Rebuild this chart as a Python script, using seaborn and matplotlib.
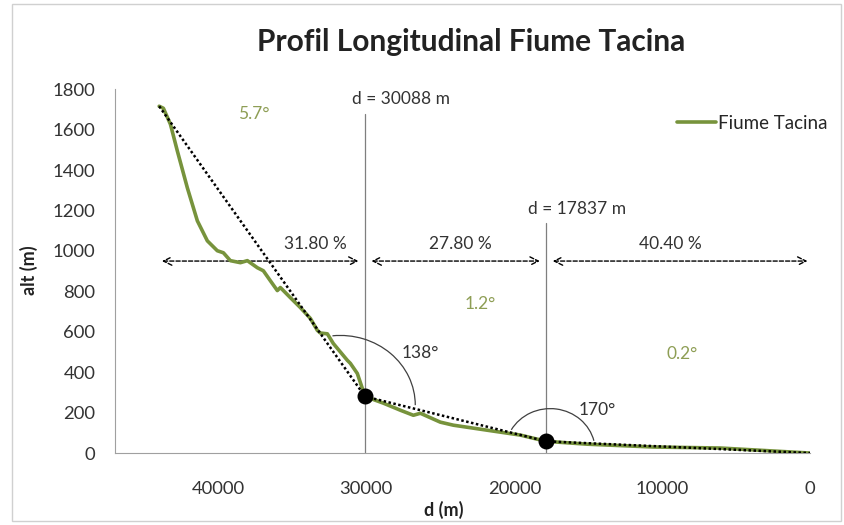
import numpy as np
import pandas as pd
import seaborn as sns
import matplotlib.pyplot as plt
from matplotlib.patches import Arc

# === Data ===
dist = [44000, 43716, 43240, 42770, 42095, 41420, 40745, 40070, 39660, 39190, 38510,
        38040, 37365, 36960, 36490, 36015, 35810, 35135, 34460, 33780, 33310, 33110,
        32635, 32230, 31285, 31080, 30610, 30088, 28850, 27700, 26820, 26350, 25000,
        24120, 21820, 19590, 17837, 15070, 10600, 6080, 0]
alt = [1716, 1706, 1627, 1494, 1312, 1149, 1050, 1001, 991, 952, 942,
       952, 917, 902, 853, 804, 819, 769, 720, 666, 607, 594,
       590, 542, 459, 444, 394, 280, 247, 212, 187, 197, 153,
       138, 113, 89, 58, 44, 30, 25, 0]

# break points of the simplified profile (dotted line)
break_d = [44000, 30088, 17837, 0]
break_alt = [1716, 280, 58, 0]

# segment shares, slopes and angles
seg_pct = ["31.80 %", "27.80 %", "40.40 %"]
seg_slope = ["5.7°", "1.2°", "0.2°"]
knee_angle = ["138°", "170°"]

green = "#77933C"
light_green = "#8E9E55"
txt = "#333333"


def arc_theta(t, w, h):
    # parametric ellipse angle -> angle expected by matplotlib Arc
    t = np.radians(t)
    return np.degrees(np.arctan2(h * np.sin(t), w * np.cos(t)))


df = pd.DataFrame({"d": dist, "alt": alt, "serie": "Fiume Tacina"})

sns.set_style("white")
plt.rcParams["font.family"] = ["Lato", "DejaVu Sans"]

fig = plt.figure(figsize=(8.44, 5.25), dpi=100)
ax = fig.add_axes([0.136, 0.137, 0.824, 0.693])

# vertical markers of the break points
for xv, top in zip(break_d[1:3], [1680, 1140]):
    ax.plot([xv, xv], [0, top], color="#7f7f7f", lw=0.9, zorder=1)

sns.lineplot(data=df, x="d", y="alt", hue="serie", palette=[green], lw=2.6,
             ax=ax, zorder=3, sort=False)

# simplified profile
ax.plot(break_d, break_alt, color="black", lw=1.8, ls=(0, (1, 1)), zorder=4)
ax.scatter(break_d[1:3], break_alt[1:3], s=110, color="black", zorder=5)

# horizontal share arrows
for i in range(3):
    x0 = break_d[i] - (0 if i == 0 else 250)
    x1 = break_d[i + 1] + (250 if i < 2 else 0)
    ax.annotate("", xy=(x1, 950), xytext=(x0, 950),
                arrowprops=dict(arrowstyle="<->", ls=(0, (3, 1.5)), lw=1.0,
                                color="black", mutation_scale=15), zorder=2)
for xs, s in zip([33450, 23650, 9460], seg_pct):
    ax.text(xs, 1035, s, ha="center", va="center", fontsize=12.5, color=txt)

# slope labels
for (xs, ys), s in zip([(37640, 1680), (22300, 740), (8650, 490)], seg_slope):
    ax.text(xs, ys, s, ha="center", va="center", fontsize=12.5, color=light_green)

# distance labels
ax.text(27650, 1750, f"d = {break_d[1]} m", ha="center", va="center", fontsize=12.5, color=txt)
ax.text(15740, 1207, f"d = {break_d[2]} m", ha="center", va="center", fontsize=12.5, color=txt)

# angle arcs
w1, h1 = 10135, 690
ax.add_patch(Arc((31760, 237), w1, h1, theta1=arc_theta(84, w1, h1),
                 theta2=arc_theta(180, w1, h1), color="#404040", lw=0.9, zorder=2))
w2, h2 = 6080, 420
ax.add_patch(Arc((17570, 10), w2, h2, theta1=arc_theta(30, w2, h2),
                 theta2=arc_theta(166, w2, h2), color="#404040", lw=0.9, zorder=2))
ax.text(26350, 493, knee_angle[0], ha="center", va="center", fontsize=12.5, color=txt)
ax.text(14400, 212, knee_angle[1], ha="center", va="center", fontsize=12.5, color=txt)

ax.set_xlim(47000, 0)
ax.set_ylim(0, 1800)
ax.set_xticks([40000, 30000, 20000, 10000, 0])
ax.set_yticks(range(0, 1801, 200))
ax.tick_params(axis="both", labelsize=13.3, labelcolor=txt, color="#a0a0a0",
               direction="out", width=0.8)
ax.tick_params(axis="y", length=5, pad=9)
ax.tick_params(axis="x", length=4, pad=16)
for side in ["top", "right"]:
    ax.spines[side].set_visible(False)
for side in ["left", "bottom"]:
    ax.spines[side].set_color("#a0a0a0")

ax.set_xlabel("d (m)", fontsize=13, fontweight="bold", color="#222222")
ax.set_ylabel("alt (m)", fontsize=13, fontweight="bold", color="#222222")
ax.xaxis.set_label_coords(0.473, -0.132)
ax.yaxis.set_label_coords(-0.111, 0.503)
fig.suptitle("Profil Longitudinal Fiume Tacina", x=0.558, y=0.947, fontsize=21.5,
             fontweight="bold", color="#222222")

leg = ax.legend(loc="upper right", bbox_to_anchor=(1.025, 0.93), frameon=False,
                fontsize=13.5, handlelength=2.1, handletextpad=0.1,
                borderpad=0, borderaxespad=0)
for h in leg.get_lines():
    h.set_linewidth(2.6)

# chart area border
fig.patches.append(plt.Rectangle((0.014, 0.008), 0.982, 0.985, transform=fig.transFigure,
                                 fill=False, edgecolor="#d0d0d0", lw=1))

fig.savefig("out.png", dpi=100)
